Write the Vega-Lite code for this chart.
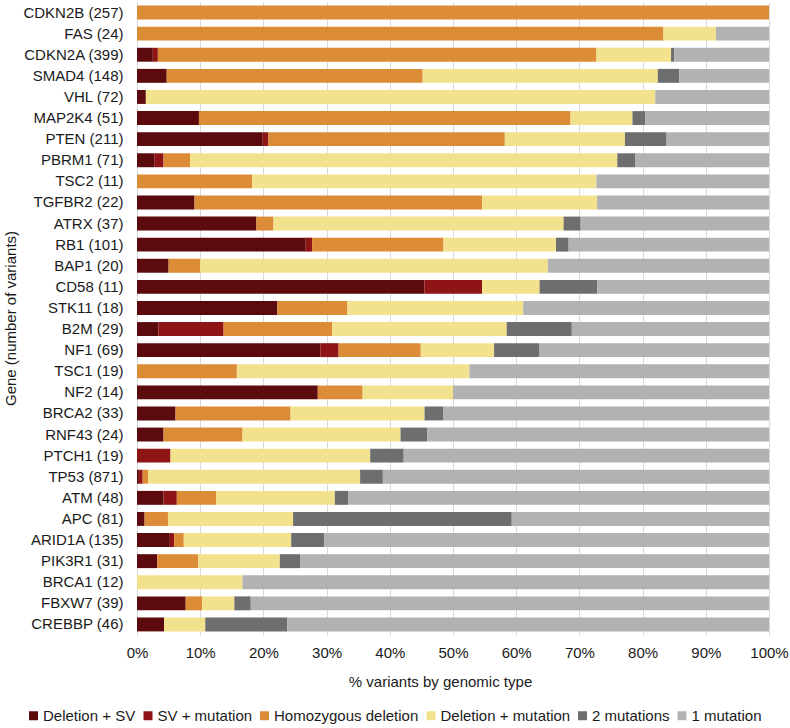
{
  "$schema": "https://vega.github.io/schema/vega-lite/v6.json",
  "width": 632,
  "height": 633,
  "autosize": {"type": "none"},
  "padding": {"left": 137, "top": 2, "right": 21, "bottom": 93},
  "background": "white",
  "config": {
    "view": {"stroke": null},
    "font": "Liberation Sans",
    "axis": {"labelFont": "Liberation Sans", "titleFont": "Liberation Sans", "labelColor": "#1a1a1a", "titleColor": "#1a1a1a", "titleFontWeight": "normal", "labelFontSize": 15, "titleFontSize": 15},
    "legend": {"labelFont": "Liberation Sans", "labelFontSize": 15, "labelColor": "#1a1a1a"}
  },
  "data": {
    "values": [
      {"g": "CDKN2B (257)", "t": "Homozygous deletion", "v": 100},
      {"g": "FAS (24)", "t": "Homozygous deletion", "v": 83.3},
      {"g": "FAS (24)", "t": "Deletion + mutation", "v": 8.3},
      {"g": "FAS (24)", "t": "1 mutation", "v": 8.4},
      {"g": "CDKN2A (399)", "t": "Deletion + SV", "v": 2.5},
      {"g": "CDKN2A (399)", "t": "SV + mutation", "v": 0.8},
      {"g": "CDKN2A (399)", "t": "Homozygous deletion", "v": 69.4},
      {"g": "CDKN2A (399)", "t": "Deletion + mutation", "v": 11.8},
      {"g": "CDKN2A (399)", "t": "2 mutations", "v": 0.5},
      {"g": "CDKN2A (399)", "t": "1 mutation", "v": 15.0},
      {"g": "SMAD4 (148)", "t": "Deletion + SV", "v": 4.7},
      {"g": "SMAD4 (148)", "t": "Homozygous deletion", "v": 40.5},
      {"g": "SMAD4 (148)", "t": "Deletion + mutation", "v": 37.2},
      {"g": "SMAD4 (148)", "t": "2 mutations", "v": 3.4},
      {"g": "SMAD4 (148)", "t": "1 mutation", "v": 14.2},
      {"g": "VHL (72)", "t": "Deletion + SV", "v": 1.4},
      {"g": "VHL (72)", "t": "Deletion + mutation", "v": 80.6},
      {"g": "VHL (72)", "t": "1 mutation", "v": 18.0},
      {"g": "MAP2K4 (51)", "t": "Deletion + SV", "v": 9.8},
      {"g": "MAP2K4 (51)", "t": "Homozygous deletion", "v": 58.8},
      {"g": "MAP2K4 (51)", "t": "Deletion + mutation", "v": 9.8},
      {"g": "MAP2K4 (51)", "t": "2 mutations", "v": 2.0},
      {"g": "MAP2K4 (51)", "t": "1 mutation", "v": 19.6},
      {"g": "PTEN (211)", "t": "Deletion + SV", "v": 19.9},
      {"g": "PTEN (211)", "t": "SV + mutation", "v": 0.9},
      {"g": "PTEN (211)", "t": "Homozygous deletion", "v": 37.4},
      {"g": "PTEN (211)", "t": "Deletion + mutation", "v": 19.0},
      {"g": "PTEN (211)", "t": "2 mutations", "v": 6.6},
      {"g": "PTEN (211)", "t": "1 mutation", "v": 16.2},
      {"g": "PBRM1 (71)", "t": "Deletion + SV", "v": 2.8},
      {"g": "PBRM1 (71)", "t": "SV + mutation", "v": 1.4},
      {"g": "PBRM1 (71)", "t": "Homozygous deletion", "v": 4.2},
      {"g": "PBRM1 (71)", "t": "Deletion + mutation", "v": 67.6},
      {"g": "PBRM1 (71)", "t": "2 mutations", "v": 2.8},
      {"g": "PBRM1 (71)", "t": "1 mutation", "v": 21.2},
      {"g": "TSC2 (11)", "t": "Homozygous deletion", "v": 18.2},
      {"g": "TSC2 (11)", "t": "Deletion + mutation", "v": 54.5},
      {"g": "TSC2 (11)", "t": "1 mutation", "v": 27.3},
      {"g": "TGFBR2 (22)", "t": "Deletion + SV", "v": 9.1},
      {"g": "TGFBR2 (22)", "t": "Homozygous deletion", "v": 45.5},
      {"g": "TGFBR2 (22)", "t": "Deletion + mutation", "v": 18.2},
      {"g": "TGFBR2 (22)", "t": "1 mutation", "v": 27.2},
      {"g": "ATRX (37)", "t": "Deletion + SV", "v": 18.9},
      {"g": "ATRX (37)", "t": "Homozygous deletion", "v": 2.7},
      {"g": "ATRX (37)", "t": "Deletion + mutation", "v": 45.9},
      {"g": "ATRX (37)", "t": "2 mutations", "v": 2.7},
      {"g": "ATRX (37)", "t": "1 mutation", "v": 29.8},
      {"g": "RB1 (101)", "t": "Deletion + SV", "v": 26.7},
      {"g": "RB1 (101)", "t": "SV + mutation", "v": 1.0},
      {"g": "RB1 (101)", "t": "Homozygous deletion", "v": 20.8},
      {"g": "RB1 (101)", "t": "Deletion + mutation", "v": 17.8},
      {"g": "RB1 (101)", "t": "2 mutations", "v": 2.0},
      {"g": "RB1 (101)", "t": "1 mutation", "v": 31.7},
      {"g": "BAP1 (20)", "t": "Deletion + SV", "v": 5.0},
      {"g": "BAP1 (20)", "t": "Homozygous deletion", "v": 5.0},
      {"g": "BAP1 (20)", "t": "Deletion + mutation", "v": 55.0},
      {"g": "BAP1 (20)", "t": "1 mutation", "v": 35.0},
      {"g": "CD58 (11)", "t": "Deletion + SV", "v": 45.5},
      {"g": "CD58 (11)", "t": "SV + mutation", "v": 9.1},
      {"g": "CD58 (11)", "t": "Deletion + mutation", "v": 9.1},
      {"g": "CD58 (11)", "t": "2 mutations", "v": 9.1},
      {"g": "CD58 (11)", "t": "1 mutation", "v": 27.2},
      {"g": "STK11 (18)", "t": "Deletion + SV", "v": 22.2},
      {"g": "STK11 (18)", "t": "Homozygous deletion", "v": 11.1},
      {"g": "STK11 (18)", "t": "Deletion + mutation", "v": 27.8},
      {"g": "STK11 (18)", "t": "1 mutation", "v": 38.9},
      {"g": "B2M (29)", "t": "Deletion + SV", "v": 3.4},
      {"g": "B2M (29)", "t": "SV + mutation", "v": 10.3},
      {"g": "B2M (29)", "t": "Homozygous deletion", "v": 17.2},
      {"g": "B2M (29)", "t": "Deletion + mutation", "v": 27.6},
      {"g": "B2M (29)", "t": "2 mutations", "v": 10.3},
      {"g": "B2M (29)", "t": "1 mutation", "v": 31.2},
      {"g": "NF1 (69)", "t": "Deletion + SV", "v": 29.0},
      {"g": "NF1 (69)", "t": "SV + mutation", "v": 2.9},
      {"g": "NF1 (69)", "t": "Homozygous deletion", "v": 13.0},
      {"g": "NF1 (69)", "t": "Deletion + mutation", "v": 11.6},
      {"g": "NF1 (69)", "t": "2 mutations", "v": 7.2},
      {"g": "NF1 (69)", "t": "1 mutation", "v": 36.3},
      {"g": "TSC1 (19)", "t": "Homozygous deletion", "v": 15.8},
      {"g": "TSC1 (19)", "t": "Deletion + mutation", "v": 36.8},
      {"g": "TSC1 (19)", "t": "1 mutation", "v": 47.4},
      {"g": "NF2 (14)", "t": "Deletion + SV", "v": 28.6},
      {"g": "NF2 (14)", "t": "Homozygous deletion", "v": 7.1},
      {"g": "NF2 (14)", "t": "Deletion + mutation", "v": 14.3},
      {"g": "NF2 (14)", "t": "1 mutation", "v": 50.0},
      {"g": "BRCA2 (33)", "t": "Deletion + SV", "v": 6.1},
      {"g": "BRCA2 (33)", "t": "Homozygous deletion", "v": 18.2},
      {"g": "BRCA2 (33)", "t": "Deletion + mutation", "v": 21.2},
      {"g": "BRCA2 (33)", "t": "2 mutations", "v": 3.0},
      {"g": "BRCA2 (33)", "t": "1 mutation", "v": 51.5},
      {"g": "RNF43 (24)", "t": "Deletion + SV", "v": 4.2},
      {"g": "RNF43 (24)", "t": "Homozygous deletion", "v": 12.5},
      {"g": "RNF43 (24)", "t": "Deletion + mutation", "v": 25.0},
      {"g": "RNF43 (24)", "t": "2 mutations", "v": 4.2},
      {"g": "RNF43 (24)", "t": "1 mutation", "v": 54.1},
      {"g": "PTCH1 (19)", "t": "SV + mutation", "v": 5.3},
      {"g": "PTCH1 (19)", "t": "Deletion + mutation", "v": 31.6},
      {"g": "PTCH1 (19)", "t": "2 mutations", "v": 5.3},
      {"g": "PTCH1 (19)", "t": "1 mutation", "v": 57.8},
      {"g": "TP53 (871)", "t": "Deletion + SV", "v": 0.3},
      {"g": "TP53 (871)", "t": "SV + mutation", "v": 0.6},
      {"g": "TP53 (871)", "t": "Homozygous deletion", "v": 0.9},
      {"g": "TP53 (871)", "t": "Deletion + mutation", "v": 33.5},
      {"g": "TP53 (871)", "t": "2 mutations", "v": 3.6},
      {"g": "TP53 (871)", "t": "1 mutation", "v": 61.1},
      {"g": "ATM (48)", "t": "Deletion + SV", "v": 4.2},
      {"g": "ATM (48)", "t": "SV + mutation", "v": 2.1},
      {"g": "ATM (48)", "t": "Homozygous deletion", "v": 6.2},
      {"g": "ATM (48)", "t": "Deletion + mutation", "v": 18.8},
      {"g": "ATM (48)", "t": "2 mutations", "v": 2.1},
      {"g": "ATM (48)", "t": "1 mutation", "v": 66.6},
      {"g": "APC (81)", "t": "Deletion + SV", "v": 1.2},
      {"g": "APC (81)", "t": "Homozygous deletion", "v": 3.7},
      {"g": "APC (81)", "t": "Deletion + mutation", "v": 19.8},
      {"g": "APC (81)", "t": "2 mutations", "v": 34.6},
      {"g": "APC (81)", "t": "1 mutation", "v": 40.7},
      {"g": "ARID1A (135)", "t": "Deletion + SV", "v": 5.2},
      {"g": "ARID1A (135)", "t": "SV + mutation", "v": 0.7},
      {"g": "ARID1A (135)", "t": "Homozygous deletion", "v": 1.5},
      {"g": "ARID1A (135)", "t": "Deletion + mutation", "v": 17.0},
      {"g": "ARID1A (135)", "t": "2 mutations", "v": 5.2},
      {"g": "ARID1A (135)", "t": "1 mutation", "v": 70.4},
      {"g": "PIK3R1 (31)", "t": "Deletion + SV", "v": 3.2},
      {"g": "PIK3R1 (31)", "t": "Homozygous deletion", "v": 6.5},
      {"g": "PIK3R1 (31)", "t": "Deletion + mutation", "v": 12.9},
      {"g": "PIK3R1 (31)", "t": "2 mutations", "v": 3.2},
      {"g": "PIK3R1 (31)", "t": "1 mutation", "v": 74.2},
      {"g": "BRCA1 (12)", "t": "Deletion + mutation", "v": 16.7},
      {"g": "BRCA1 (12)", "t": "1 mutation", "v": 83.3},
      {"g": "FBXW7 (39)", "t": "Deletion + SV", "v": 7.7},
      {"g": "FBXW7 (39)", "t": "Homozygous deletion", "v": 2.6},
      {"g": "FBXW7 (39)", "t": "Deletion + mutation", "v": 5.1},
      {"g": "FBXW7 (39)", "t": "2 mutations", "v": 2.6},
      {"g": "FBXW7 (39)", "t": "1 mutation", "v": 82.0},
      {"g": "CREBBP (46)", "t": "Deletion + SV", "v": 4.3},
      {"g": "CREBBP (46)", "t": "Deletion + mutation", "v": 6.5},
      {"g": "CREBBP (46)", "t": "2 mutations", "v": 13.0},
      {"g": "CREBBP (46)", "t": "1 mutation", "v": 76.2}
    ]
  },
  "transform": [
    {"calculate": "indexof(['Deletion + SV', 'SV + mutation', 'Homozygous deletion', 'Deletion + mutation', '2 mutations', '1 mutation'], datum.t)", "as": "ord"}
  ],
  "mark": {"type": "bar"},
  "encoding": {
    "y": {
      "field": "g",
      "type": "nominal",
      "sort": ["CDKN2B (257)", "FAS (24)", "CDKN2A (399)", "SMAD4 (148)", "VHL (72)", "MAP2K4 (51)", "PTEN (211)", "PBRM1 (71)", "TSC2 (11)", "TGFBR2 (22)", "ATRX (37)", "RB1 (101)", "BAP1 (20)", "CD58 (11)", "STK11 (18)", "B2M (29)", "NF1 (69)", "TSC1 (19)", "NF2 (14)", "BRCA2 (33)", "RNF43 (24)", "PTCH1 (19)", "TP53 (871)", "ATM (48)", "APC (81)", "ARID1A (135)", "PIK3R1 (31)", "BRCA1 (12)", "FBXW7 (39)", "CREBBP (46)"],
      "scale": {"paddingInner": 0.34, "paddingOuter": 0.17},
      "axis": {
        "title": "Gene (number of variants)",
        "domain": false,
        "ticks": false,
        "grid": false,
        "labelPadding": 14,
        "titleAngle": -90,
        "titleX": -127,
        "titleY": 316,
        "titleAlign": "center",
        "titleBaseline": "middle"
      }
    },
    "x": {
      "field": "v",
      "type": "quantitative",
      "stack": "zero",
      "scale": {"domain": [0, 100], "nice": false, "zero": true},
      "axis": {
        "title": "% variants by genomic type",
        "values": [0, 10, 20, 30, 40, 50, 60, 70, 80, 90, 100],
        "labelExpr": "datum.value + '%'",
        "domain": false,
        "ticks": false,
        "grid": true,
        "gridColor": "#d9d9d9",
        "gridWidth": 1,
        "labelPadding": 10,
        "labelFlush": false,
        "titleX": 303,
        "titleY": 51,
        "titleAlign": "center",
        "titleBaseline": "alphabetic"
      }
    },
    "order": {"field": "ord", "type": "quantitative", "sort": "ascending"},
    "color": {
      "field": "t",
      "type": "nominal",
      "sort": ["Deletion + SV", "SV + mutation", "Homozygous deletion", "Deletion + mutation", "2 mutations", "1 mutation"],
      "scale": {
        "domain": ["Deletion + SV", "SV + mutation", "Homozygous deletion", "Deletion + mutation", "2 mutations", "1 mutation"],
        "range": ["#5b0a0e", "#8e1416", "#dc8b37", "#f3e28d", "#6e6e6e", "#b2b2b2"]
      },
      "legend": {
        "title": null,
        "orient": "none",
        "direction": "horizontal",
        "legendX": -111,
        "legendY": 706,
        "symbolType": "square",
        "symbolSize": 81,
        "symbolStrokeWidth": 0,
        "labelOffset": 2,
        "columnPadding": 4.5,
        "padding": 0
      }
    }
  }
}
